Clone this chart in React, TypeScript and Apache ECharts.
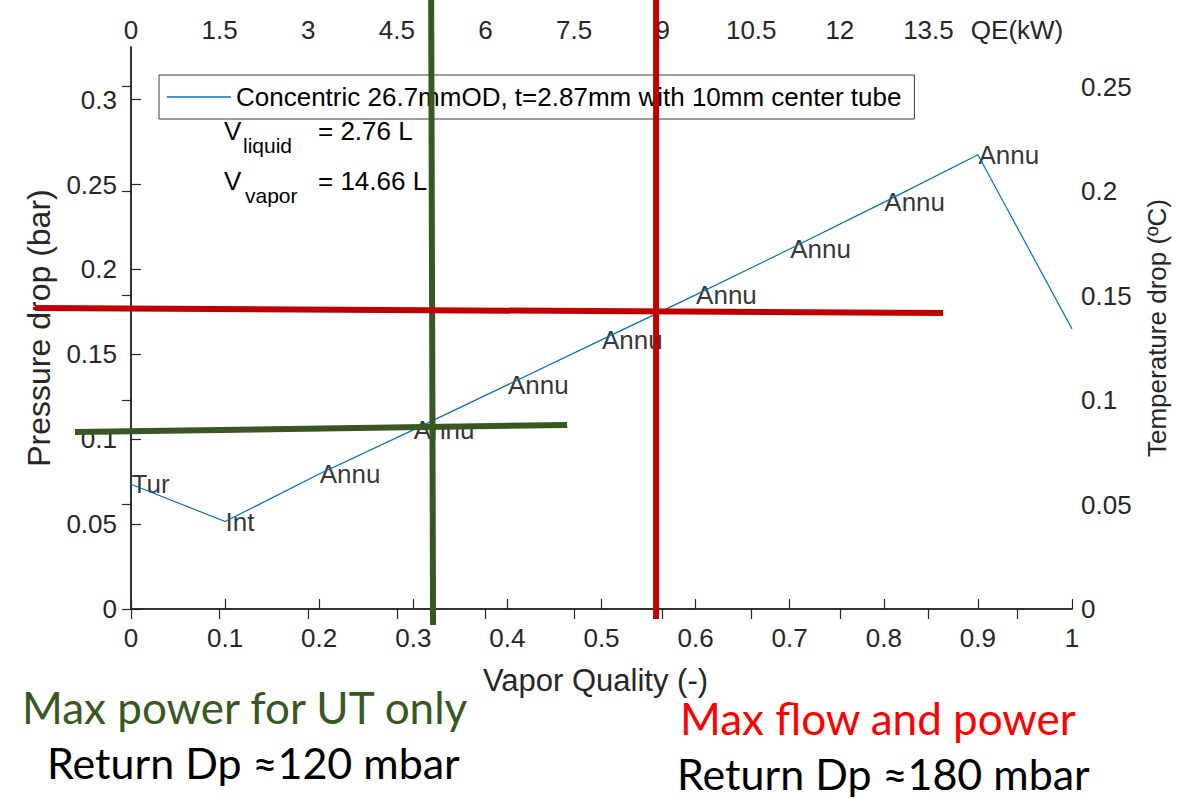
import React, { useEffect, useRef } from 'react';
import * as echarts from 'echarts';

// ---- data ----
const quality = [0, 0.1, 0.2, 0.3, 0.4, 0.5, 0.6, 0.7, 0.8, 0.9, 1.0];
const pressureDrop = [0.0735, 0.0515, 0.0795, 0.1055, 0.132, 0.1585, 0.185, 0.212, 0.2395, 0.2675, 0.165];
const regimeLabels = ['Tur', 'Int', 'Annu', 'Annu', 'Annu', 'Annu', 'Annu', 'Annu', 'Annu', 'Annu', ''];
const seriesName = 'Concentric 26.7mmOD, t=2.87mm with 10mm center tube';
const pressureMax = 0.331;
const temperatureMax = 0.269;
const qeMax = 15.93;
const qeLabelAt = 15;

// hand-drawn annotation lines, in (vapor quality, pressure drop) coordinates
const greenVertical = [[0.319, 0.3587], [0.321, -0.0094]];
const greenHorizontal = [[-0.0595, 0.1042], [0.4635, 0.1084]];
const redVertical = [[0.558, 0.3587], [0.558, -0.0059]];
const redHorizontal = [[-0.102, 0.1773], [0.863, 0.1743]];

const FONT = "'Liberation Sans', Arial, Helvetica, sans-serif";
const CAL = "Lato, 'Open Sans', sans-serif";
const AXIS = '#262626';

export default function App() {
  const ref = useRef<HTMLDivElement>(null);
  useEffect(() => {
    document.body.style.margin = '0';
    const chart = echarts.init(ref.current!, null, { renderer: 'svg' });
    const points = quality.map((q, i) => [q, pressureDrop[i]]);
    const tick = { show: true, inside: true, length: 10, lineStyle: { color: AXIS, width: 1.2 } };
    const axisLine = { show: true, lineStyle: { color: AXIS, width: 1.5 } };
    const label = { fontSize: 26, color: AXIS, fontFamily: FONT };
    chart.setOption({
      animation: false,
      backgroundColor: '#fff',
      grid: { left: 131, right: 125, top: 47, bottom: 189, containLabel: false },
      legend: {
        data: [{ name: seriesName, icon: 'rect' }],
        left: 159,
        top: 75,
        padding: [9, 13, 9, 8],
        itemWidth: 64,
        itemHeight: 1.5,
        borderColor: '#3c3c3c',
        borderWidth: 1,
        backgroundColor: '#fff',
        textStyle: { fontSize: 26, color: '#000', fontFamily: FONT },
      },
      xAxis: [
        {
          type: 'value', position: 'bottom', min: 0, max: 1, interval: 0.1,
          axisLine, axisTick: tick, splitLine: { show: false },
          axisLabel: { ...label, margin: 16, showMaxLabel: true },
          name: 'Vapor Quality (-)', nameLocation: 'middle', nameGap: 56,
          nameTextStyle: { fontSize: 31, color: AXIS, fontFamily: FONT, padding: [0, 12, 0, 0] },
        },
        {
          type: 'value', position: 'top', min: 0, max: qeMax, interval: 1.5,
          axisLine, axisTick: tick, splitLine: { show: false },
          axisLabel: {
            ...label, margin: 4, showMaxLabel: false,
            formatter: (v: number) => (Math.abs(v - qeLabelAt) < 1e-6 ? 'QE(kW)' : String(+v.toFixed(2))),
          },
        },
      ],
      yAxis: [
        {
          type: 'value', position: 'left', min: 0, max: pressureMax, interval: 0.05,
          axisLine, axisTick: tick, splitLine: { show: false },
          axisLabel: { ...label, margin: 14, showMaxLabel: false, formatter: (v: number) => String(+v.toFixed(3)) },
          name: 'Pressure drop (bar)', nameLocation: 'middle', nameGap: 73,
          nameTextStyle: { fontSize: 32, color: AXIS, fontFamily: FONT },
        },
        {
          type: 'value', position: 'right', min: 0, max: temperatureMax, interval: 0.05,
          axisLine, axisTick: { ...tick, length: 9 }, splitLine: { show: false },
          axisLabel: { ...label, margin: 9, showMaxLabel: false, formatter: (v: number) => String(+v.toFixed(3)) },
          name: 'Temperature drop (ºC)', nameLocation: 'middle', nameGap: 72, nameRotate: 90,
          nameTextStyle: { fontSize: 26, color: AXIS, fontFamily: FONT },
        },
      ],
      series: [
        {
          name: seriesName,
          type: 'line',
          xAxisIndex: 0,
          yAxisIndex: 0,
          data: points,
          symbol: 'none',
          lineStyle: { color: '#0072BD', width: 1.2 },
          itemStyle: { color: '#0072BD' },
        },
        {
          name: 'regimes',
          type: 'scatter',
          xAxisIndex: 0,
          yAxisIndex: 0,
          data: points,
          symbolSize: 1,
          silent: true,
          itemStyle: { color: 'rgba(0,0,0,0)' },
          label: {
            show: true,
            position: 'right',
            distance: 0,
            formatter: (p: any) => regimeLabels[p.dataIndex],
            fontSize: 26,
            color: '#000',
            fontFamily: FONT,
          },
        },
      ],
    });

    const toPx = (p: number[]) => chart.convertToPixel({ seriesIndex: 0 }, p) as number[];
    const seg = (pts: number[][], color: string) => {
      const a = toPx(pts[0]);
      const b = toPx(pts[1]);
      return {
        type: 'line', z: 20,
        shape: { x1: a[0], y1: a[1], x2: b[0], y2: b[1] },
        style: { stroke: color, lineWidth: 6 },
      };
    };
    const txt = (text: string, x: number, y: number, fontSize: number, fill: string, family = FONT) => ({
      type: 'text', z: 15, x, y,
      style: { text, fontSize, fontFamily: family, fill, verticalAlign: 'middle', align: 'left' },
    });
    chart.setOption({
      graphic: [
        txt('V', 224, 131, 26, '#000'),
        txt('liquid', 243, 145, 21, '#000'),
        txt('= 2.76 L', 318, 131, 26, '#000'),
        txt('V', 224, 181, 26, '#000'),
        txt('vapor', 245, 195, 21, '#000'),
        txt('= 14.66 L', 318, 181, 26, '#000'),
        txt('Max power for UT only', 22, 707, 44, '#385723', CAL),
        txt('Return Dp ≈120 mbar', 47, 762, 43, '#000', CAL),
        txt('Max flow and power', 680, 718, 44, '#FF0000', CAL),
        txt('Return Dp ≈180 mbar', 677, 773, 43, '#000', CAL),
        seg(greenVertical, '#385723'),
        seg(greenHorizontal, '#385723'),
        seg(redVertical, '#C00000'),
        seg(redHorizontal, '#C00000'),
      ],
    });
    return () => chart.dispose();
  }, []);
  return <div ref={ref} style={{ width: 1197, height: 798, background: '#fff' }} />;
}
